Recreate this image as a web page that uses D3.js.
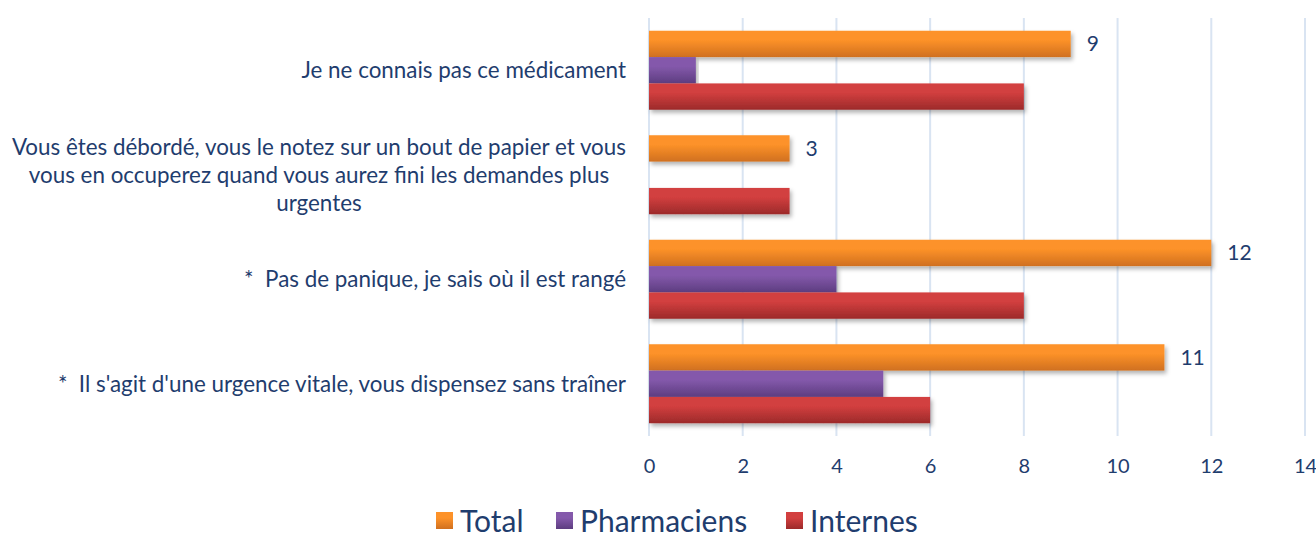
<!DOCTYPE html>
<html>
<head>
<meta charset="utf-8">
<script src="https://cdn.jsdelivr.net/npm/d3@7"></script>
<style>
  body { margin: 0; background: #fff; }
  text { font-family: Lato, "Open Sans", sans-serif; fill: #1f3d6e; white-space: pre; }
</style>
</head>
<body>
<div id="chart"></div>
<script>
// données
const categories = [
    ["Je ne connais pas ce médicament"],
    ["Vous êtes débordé, vous le notez sur un bout de papier et vous",
     "vous en occuperez quand vous aurez fini les demandes plus",
     "urgentes"],
    ["*  Pas de panique, je sais où il est rangé"],
    ["*  Il s'agit d'une urgence vitale, vous dispensez sans traîner"]
]
const seriesNames = ["Total", "Pharmaciens", "Internes"]
const total = [9, 3, 12, 11]
const pharmaciens = [1, 0, 4, 5]
const internes = [8, 3, 8, 6]
const xTicks = [0, 2, 4, 6, 8, 10, 12, 14]

const colors = [
    ["#fd9229", "#d0701f"],
    ["#8459ab", "#5d3d80"],
    ["#d23f3f", "#9c2a2a"]
]

const W = 1316, H = 536
const svg = d3.select("#chart").append("svg")
    .attr("width", W)
    .attr("height", H)

const defs = svg.append("defs")
colors.forEach((c, i) => {
    const g = defs.append("linearGradient")
        .attr("id", "grad" + i)
        .attr("x1", 0).attr("y1", 0).attr("x2", 0).attr("y2", 1)
    g.append("stop").attr("offset", "0%").attr("stop-color", c[0])
    g.append("stop").attr("offset", "35%").attr("stop-color", c[0])
    g.append("stop").attr("offset", "100%").attr("stop-color", c[1])
})
defs.append("filter").attr("id", "shadow")
    .attr("x", "-5%").attr("y", "-20%").attr("width", "110%").attr("height", "160%")
    .append("feDropShadow")
    .attr("dx", 2).attr("dy", 3).attr("stdDeviation", 2)
    .attr("flood-color", "#000").attr("flood-opacity", 0.3)

const x = d3.scaleLinear().domain([0, 14]).range([649, 1305])
const y = d3.scaleBand()
    .domain(d3.range(categories.length))
    .range([18, 436])
    .paddingInner(0.244)
    .paddingOuter(0.122)
const ySub = d3.scaleBand()
    .domain(d3.range(seriesNames.length))
    .range([0, y.bandwidth()])

// grille
svg.append("g")
    .selectAll("line")
    .data(xTicks)
    .enter().append("line")
    .attr("x1", d => x(d)).attr("x2", d => x(d))
    .attr("y1", 18).attr("y2", 436)
    .attr("stroke", "#d9e4f2")
    .attr("stroke-width", 2)

// axe x
const xAxis = svg.append("g")
    .attr("transform", "translate(0,453)")
    .call(d3.axisBottom(x).tickValues(xTicks).tickSize(0).tickPadding(6))
xAxis.select(".domain").remove()
xAxis.selectAll("text")
    .attr("font-size", 20)
    .style("font-family", "Lato, sans-serif")
    .attr("fill", "#1f3d6e")

// barres
const series = [total, pharmaciens, internes]
const groups = svg.append("g")
    .selectAll("g")
    .data(categories.map((c, i) => i))
    .enter().append("g")
    .attr("transform", i => `translate(0,${y(i)})`)

groups.selectAll("rect")
    .data(i => series.map((s, k) => ({k: k, v: s[i]})))
    .enter().append("rect")
    .filter(d => d.v > 0)
    .attr("x", x(0))
    .attr("y", d => ySub(d.k))
    .attr("width", d => x(d.v) - x(0))
    .attr("height", ySub.bandwidth())
    .attr("fill", d => `url(#grad${d.k})`)
    .attr("filter", "url(#shadow)")

// étiquettes de valeur (Total)
groups.append("text")
    .attr("x", i => x(total[i]) + 16)
    .attr("y", ySub(0) + ySub.bandwidth() / 2)
    .attr("dy", "0.35em")
    .attr("font-size", 21)
    .text(i => total[i])

// libellés des catégories
const labelRight = 626
groups.each(function(i) {
    const lines = categories[i]
    const g = d3.select(this)
    const lh = 28
    const cy = y.bandwidth() / 2
    const t = g.append("g")
    const texts = t.selectAll("text")
        .data(lines)
        .enter().append("text")
        .attr("y", (d, j) => cy + (j - (lines.length - 1) / 2) * lh)
        .attr("dy", "0.35em")
        .attr("font-size", 22.4)
        .attr("text-anchor", "middle")
        .text(d => d)
    let maxW = 0
    texts.each(function() { maxW = Math.max(maxW, this.getComputedTextLength()) })
    texts.attr("x", labelRight - maxW / 2)
})

// légende
const legend = svg.append("g").attr("transform", "translate(0,521)")
const legX = [436, 556, 786]
seriesNames.forEach((name, k) => {
    legend.append("rect")
        .attr("x", legX[k]).attr("y", -9)
        .attr("width", 17).attr("height", 17)
        .attr("fill", `url(#grad${k})`)
    legend.append("text")
        .attr("x", legX[k] + 24)
        .attr("dy", "0.35em")
        .attr("font-size", 30)
        .text(name)
})
</script>
</body>
</html>
